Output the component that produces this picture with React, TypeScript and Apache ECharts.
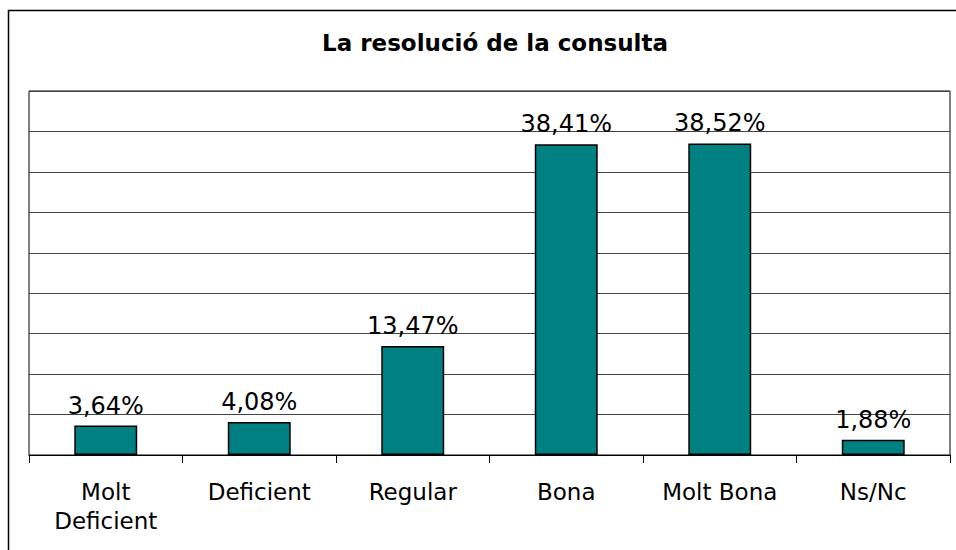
import React, { useEffect, useRef } from "react";
import * as echarts from "echarts";

const titleText = "La resolució de la consulta";
const categories = ["Molt\nDeficient", "Deficient", "Regular", "Bona", "Molt Bona", "Ns/Nc"];
const values = [3.64, 4.08, 13.47, 38.41, 38.52, 1.88];
const labelTexts = ["3,64%", "4,08%", "13,47%", "38,41%", "38,52%", "1,88%"];

const FONT = "'DejaVu Sans', Verdana, sans-serif";

export default function App() {
  const ref = useRef<HTMLDivElement>(null);
  useEffect(() => {
    if (!ref.current) return;
    const chart = echarts.init(ref.current, undefined, { renderer: "svg" });
    chart.setOption({
      animation: false,
      backgroundColor: "#ffffff",
      title: {
        text: titleText,
        left: 490,
        top: 26,
        textAlign: "center",
        textStyle: { fontFamily: FONT, fontSize: 23, fontWeight: "bold", color: "#000" },
      },
      graphic: [
        {
          type: "rect",
          shape: { x: 8.5, y: 10.5, width: 1000, height: 1000 },
          style: { fill: "none", stroke: "#000", lineWidth: 1.5 },
          silent: true,
          z: 100,
        },
      ],
      grid: {
        left: 29,
        top: 91,
        right: 6,
        bottom: 95,
        show: true,
        borderColor: "#000",
        borderWidth: 1,
        containLabel: false,
      },
      xAxis: {
        type: "category",
        data: categories,
        axisLine: { lineStyle: { color: "#000", width: 1 } },
        axisTick: { show: true, length: 8, alignWithLabel: false, lineStyle: { color: "#000" } },
        axisLabel: {
          interval: 0,
          margin: 22,
          fontFamily: FONT,
          fontSize: 23,
          lineHeight: 29,
          color: "#000",
        },
      },
      yAxis: {
        type: "value",
        min: 0,
        max: 45,
        interval: 5,
        axisLine: { show: false },
        axisTick: { show: false },
        axisLabel: { show: false },
        splitLine: { show: true, lineStyle: { color: "#444", width: 1 } },
      },
      series: [
        {
          type: "bar",
          data: values,
          barWidth: "41%",
          itemStyle: { color: "#008080", borderColor: "#000", borderWidth: 1.5 },
          label: {
            show: true,
            position: "top",
            distance: 8,
            fontFamily: FONT,
            fontSize: 24,
            color: "#000",
            formatter: (p: any) => labelTexts[p.dataIndex],
          },
        },
      ],
    });
    return () => chart.dispose();
  }, []);
  return (
    <div
      ref={ref}
      style={{ position: "absolute", left: 0, top: 0, width: 956, height: 550 }}
    />
  );
}
